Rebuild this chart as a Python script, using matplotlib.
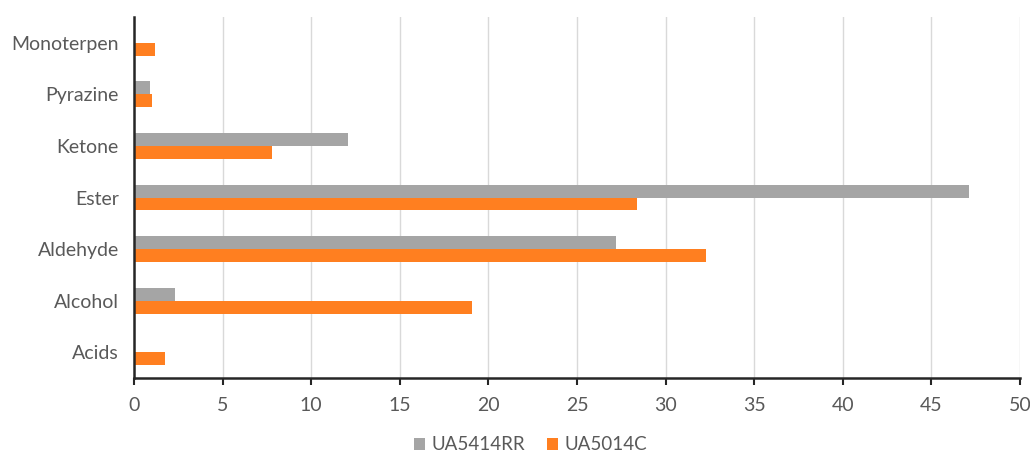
import matplotlib
matplotlib.use("Agg")
from matplotlib import pyplot as plt
import numpy as np

categories = ["Acids", "Alcohol", "Aldehyde", "Ester", "Ketone", "Pyrazine", "Monoterpen"]
ua5414rr = [0.0, 2.3, 27.2, 47.1, 12.1, 0.9, 0.0]
ua5014c = [1.75, 19.1, 32.3, 28.4, 7.8, 1.0, 1.2]

gray = "#A5A5A5"
orange = "#FF7F20"
text_col = "#595959"

plt.rcParams['font.family'] = ['Lato', 'DejaVu Sans']

fig = plt.figure(figsize=(10.3, 4.55), dpi=100)
ax = fig.add_axes([134 / 1030, 1 - 378 / 455, (1020 - 134) / 1030, (378 - 17) / 455])

y = np.arange(len(categories))
h = 0.25
ax.barh(y + h / 2, ua5414rr, height=h, color=gray, label="UA5414RR", zorder=3)
ax.barh(y - h / 2, ua5014c, height=h, color=orange, label="UA5014C", zorder=3)

ax.set_xlim(0, 50)
ax.set_ylim(-0.5, len(categories) - 0.5)
ax.set_xticks(np.arange(0, 51, 5))
ax.set_yticks(y)
ax.set_yticklabels(categories)

ax.grid(axis="x", color="#D9D9D9", linewidth=1.0, zorder=0)
for s in ["top", "right"]:
    ax.spines[s].set_visible(False)
for s in ["left", "bottom"]:
    ax.spines[s].set_color("#262626")
    ax.spines[s].set_linewidth(1.8)
    ax.spines[s].set_zorder(4)

ax.tick_params(axis="y", length=0, pad=11, labelsize=14, labelcolor=text_col)
ax.tick_params(axis="x", length=5, width=1.5, color="#262626", pad=9,
               labelsize=14, labelcolor=text_col)

fig.legend(loc="center", bbox_to_anchor=(0.515, 1 - 445 / 455), ncol=2, frameon=False,
           fontsize=13.5, labelcolor=text_col, handlelength=0.6, handleheight=0.6,
           handletextpad=0.3, columnspacing=1.2)

fig.savefig("out.png", dpi=100)
